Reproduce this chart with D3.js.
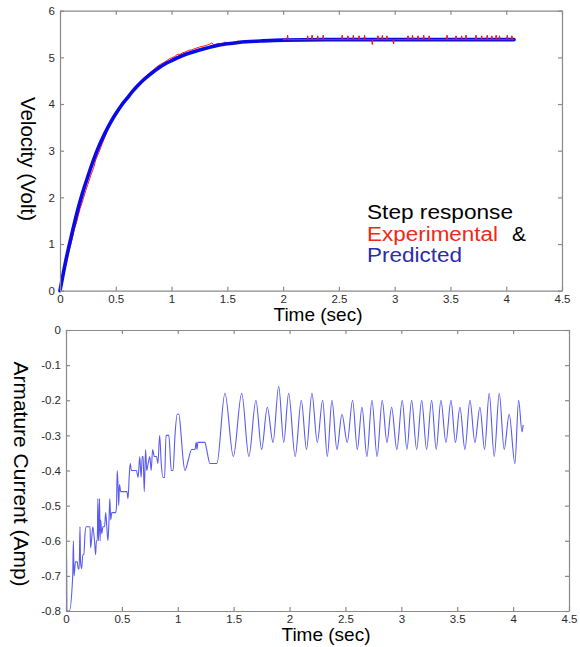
<!DOCTYPE html>
<html>
<head>
<meta charset="utf-8">
<script src="https://cdn.jsdelivr.net/npm/d3@7"></script>
<style>
body { margin: 0; background: #fff; }
text { font-family: "Liberation Sans", Arial, sans-serif; }
</style>
</head>
<body>
<div id="main"></div>
<script>
// ---- top panel: step response (velocity) ----
const predTime = [0, 0.05, 0.1, 0.15, 0.2, 0.25, 0.3, 0.35, 0.4, 0.45, 0.5, 0.55, 0.6, 0.65, 0.7, 0.75, 0.8, 0.9, 1.0,
    1.1, 1.2, 1.3, 1.4, 1.5, 1.6, 1.8, 2.0, 2.5, 3.0, 3.5, 4.07];
const predVolt = [0, 0.62, 1.15, 1.65, 2.08, 2.45, 2.8, 3.1, 3.36, 3.59, 3.79, 3.97, 4.12, 4.27, 4.4, 4.52, 4.62, 4.8, 4.93,
    5.04, 5.12, 5.19, 5.25, 5.29, 5.32, 5.35, 5.37, 5.38, 5.38, 5.38, 5.38];

// experimental trace, [time, volt]
const expPts = [
    [0, 0], [0.02, 0.18], [0.05, 0.52], [0.08, 0.84], [0.1, 1.02], [0.13, 1.33], [0.15, 1.48],
    [0.18, 1.76], [0.2, 1.9], [0.23, 2.14], [0.25, 2.28], [0.28, 2.5], [0.3, 2.62], [0.32, 2.8],
    [0.35, 2.97], [0.38, 3.16], [0.4, 3.28], [0.43, 3.46], [0.45, 3.56], [0.48, 3.72], [0.5, 3.8],
    [0.53, 3.92], [0.55, 3.99], [0.58, 4.09], [0.6, 4.14], [0.63, 4.23], [0.65, 4.29], [0.68, 4.37],
    [0.7, 4.42], [0.73, 4.5], [0.75, 4.55], [0.78, 4.62], [0.8, 4.66], [0.83, 4.72], [0.85, 4.76],
    [0.88, 4.82], [0.9, 4.85], [0.93, 4.89], [0.95, 4.92], [0.98, 4.97], [1.0, 4.99], [1.03, 5.02],
    [1.05, 5.06], [1.08, 5.07], [1.1, 5.1], [1.13, 5.12], [1.15, 5.15], [1.18, 5.16], [1.2, 5.18],
    [1.25, 5.22], [1.3, 5.25], [1.34, 5.28], [1.36, 5.31], [1.38, 5.27], [1.42, 5.3], [1.45, 5.28],
    [1.48, 5.33], [1.5, 5.3], [1.55, 5.32], [1.6, 5.35], [1.62, 5.33], [1.66, 5.36], [1.7, 5.35],
    [1.75, 5.36], [1.8, 5.35], [1.85, 5.37], [1.9, 5.37], [2.0, 5.38],
    [2.036, 5.38], [2.04, 5.47], [2.044, 5.38], [2.216, 5.38], [2.22, 5.46], [2.224, 5.38],
    [2.256, 5.38], [2.26, 5.47], [2.264, 5.38], [2.306, 5.38], [2.31, 5.46], [2.314, 5.38],
    [2.356, 5.38], [2.36, 5.47], [2.364, 5.38], [2.526, 5.38], [2.53, 5.47], [2.534, 5.38],
    [2.576, 5.38], [2.58, 5.46], [2.584, 5.38], [2.626, 5.38], [2.63, 5.47], [2.634, 5.38],
    [2.676, 5.38], [2.68, 5.46], [2.684, 5.38], [2.726, 5.38], [2.73, 5.47], [2.734, 5.38],
    [2.796, 5.38], [2.8, 5.28], [2.804, 5.38], [2.846, 5.38], [2.85, 5.46], [2.854, 5.38],
    [2.886, 5.38], [2.89, 5.47], [2.894, 5.38], [2.926, 5.38], [2.93, 5.46], [2.934, 5.38],
    [2.986, 5.38], [2.99, 5.29], [2.994, 5.38], [3.116, 5.38], [3.12, 5.46], [3.124, 5.38],
    [3.156, 5.38], [3.16, 5.47], [3.164, 5.38], [3.206, 5.38], [3.21, 5.46], [3.214, 5.38],
    [3.256, 5.38], [3.26, 5.47], [3.264, 5.38], [3.306, 5.38], [3.31, 5.46], [3.314, 5.38],
    [3.466, 5.38], [3.47, 5.47], [3.474, 5.38], [3.546, 5.38], [3.55, 5.46], [3.554, 5.38],
    [3.596, 5.38], [3.6, 5.46], [3.604, 5.38], [3.636, 5.38], [3.64, 5.47], [3.644, 5.38],
    [3.726, 5.38], [3.73, 5.47], [3.734, 5.38], [3.776, 5.38], [3.78, 5.46], [3.784, 5.38],
    [3.826, 5.38], [3.83, 5.47], [3.834, 5.38], [3.866, 5.38], [3.87, 5.46], [3.874, 5.38],
    [3.906, 5.38], [3.91, 5.47], [3.914, 5.38], [3.936, 5.38], [3.94, 5.46], [3.944, 5.38],
    [4.006, 5.38], [4.01, 5.47], [4.014, 5.38], [4.046, 5.38], [4.05, 5.46], [4.054, 5.38],
    [4.07, 5.38]
];

// legend lines: text, colour, width it takes in the picture
const legendText = ["Step response", "Experimental", "&", "Predicted"];
const legendColor = ["#000", "#ee2a12", "#000", "#2c2ca6"];
const legendWidth = [146, 131, 14, 95];

// ---- bottom panel: armature current ----
const curTime = [0, 0.005, 0.008, 0.03, 0.06, 0.066, 0.072, 0.085, 0.1, 0.11, 0.118, 0.125, 0.13, 0.14,
    0.15, 0.16, 0.17, 0.18, 0.215, 0.22, 0.228, 0.24, 0.255, 0.265, 0.272, 0.28, 0.285, 0.29, 0.295,
    0.3, 0.305, 0.31, 0.32, 0.33, 0.345, 0.355, 0.365, 0.375, 0.385, 0.392, 0.4, 0.41, 0.445, 0.452,
    0.458, 0.465, 0.472, 0.478, 0.49, 0.545, 0.555, 0.565, 0.575, 0.585, 0.63, 0.645, 0.66, 0.672,
    0.682, 0.69, 0.7, 0.712, 0.722, 0.735, 0.75, 0.762, 0.775, 0.79, 0.81, 0.822, 0.838, 0.852, 0.868,
    0.882, 0.895, 0.92, 0.942, 0.958, 0.975, 0.995, 1.01, 1.03, 1.045, 1.064, 1.094, 1.124, 1.154,
    1.165, 1.172, 1.18, 1.243, 1.258, 1.288, 1.35,
    1.422, 1.497, 1.572, 1.636, 1.699, 1.75, 1.801, 1.852, 1.903, 1.948, 1.992, 2.05, 2.105, 2.152,
    2.2, 2.248, 2.296, 2.338, 2.379, 2.424, 2.469, 2.516, 2.564, 2.606, 2.648, 2.692, 2.737, 2.783,
    2.829, 2.871, 2.913, 2.96, 3.008, 3.05, 3.092, 3.137, 3.182, 3.226, 3.271, 3.312, 3.354, 3.399,
    3.444, 3.484, 3.524, 3.569, 3.614, 3.658, 3.703, 3.745, 3.786, 3.831, 3.876, 3.92, 3.965, 4.016,
    4.049, 4.08, 4.09];
const curAmp = [-0.62, -0.62, -0.8, -0.8, -0.7, -0.6, -0.7, -0.66, -0.66, -0.68, -0.68, -0.56, -0.66, -0.68,
    -0.64, -0.64, -0.58, -0.56, -0.56, -0.62, -0.6, -0.56, -0.6, -0.64, -0.6, -0.6, -0.48, -0.6, -0.56,
    -0.48, -0.6, -0.54, -0.58, -0.56, -0.56, -0.52, -0.56, -0.6, -0.54, -0.48, -0.54, -0.52, -0.52, -0.5,
    -0.4, -0.44, -0.5, -0.44, -0.46, -0.46, -0.48, -0.42, -0.38, -0.4, -0.4, -0.42, -0.36, -0.42,
    -0.36, -0.36, -0.46, -0.34, -0.4, -0.38, -0.36, -0.4, -0.34, -0.36, -0.36, -0.38, -0.3, -0.38, -0.42,
    -0.42, -0.3, -0.3, -0.4, -0.4, -0.3, -0.24, -0.24, -0.3, -0.36, -0.4, -0.37, -0.34, -0.34,
    -0.32, -0.34, -0.32, -0.32, -0.34, -0.38, -0.38,
    -0.18, -0.36, -0.18, -0.36, -0.2, -0.34, -0.22, -0.32, -0.16, -0.32, -0.18, -0.36, -0.2, -0.34,
    -0.18, -0.32, -0.2, -0.36, -0.2, -0.34, -0.24, -0.32, -0.2, -0.34, -0.22, -0.36, -0.2, -0.36,
    -0.2, -0.32, -0.22, -0.34, -0.2, -0.34, -0.2, -0.34, -0.2, -0.34, -0.2, -0.34, -0.2, -0.32,
    -0.2, -0.32, -0.22, -0.34, -0.2, -0.32, -0.22, -0.34, -0.18, -0.36, -0.18, -0.34, -0.24, -0.38,
    -0.2, -0.29, -0.27];

const timeTicks = [0, 0.5, 1, 1.5, 2, 2.5, 3, 3.5, 4, 4.5];
const voltTicks = [0, 1, 2, 3, 4, 5, 6];
const ampTicks = [0, -0.1, -0.2, -0.3, -0.4, -0.5, -0.6, -0.7, -0.8];

const ctx = { w: 580, h: 647 };

// draws a boxed matlab-like axes with inward ticks
function drawFrame(g, x, y, xTicks, yTicks) {
    const [x0, x1] = x.range();
    const [y0, y1] = y.range();
    const fmt = d => String(d);
    g.append("g").attr("class", "ax")
        .attr("transform", `translate(0,${y0})`)
        .call(d3.axisBottom(x).tickValues(xTicks).tickFormat(fmt).tickSize(-4).tickSizeOuter(0).tickPadding(4));
    g.append("g").attr("class", "ax")
        .attr("transform", `translate(0,${y1})`)
        .call(d3.axisTop(x).tickValues(xTicks).tickFormat("").tickSize(-4).tickSizeOuter(0));
    g.append("g").attr("class", "ax")
        .attr("transform", `translate(${x0},0)`)
        .call(d3.axisLeft(y).tickValues(yTicks).tickFormat(fmt).tickSize(-4).tickSizeOuter(0).tickPadding(5));
    g.append("g").attr("class", "ax")
        .attr("transform", `translate(${x1},0)`)
        .call(d3.axisRight(y).tickValues(yTicks).tickFormat("").tickSize(-4).tickSizeOuter(0));
    g.selectAll(".ax path, .ax line").attr("stroke", "#8a8a8a").attr("stroke-width", 1.2);
    g.selectAll(".ax text").attr("fill", "#2a2a2a").style("font-size", "11.5px")
        .style("font-family", "'Liberation Sans', Arial, sans-serif");
}

function createViz() {
    const svg = d3.select("#main").append("svg")
        .attr("width", ctx.w).attr("height", ctx.h);

    // ---------- top panel ----------
    const top = svg.append("g");
    const xT = d3.scaleLinear().domain([0, 4.5]).range([60, 562]);
    const yT = d3.scaleLinear().domain([0, 6]).range([290.7, 10.7]);

    const lineT = d3.line().x(d => xT(d[0])).y(d => yT(d[1]));
    top.append("path")
        .datum(expPts)
        .attr("fill", "none").attr("stroke", "#ff1a1a").attr("stroke-width", 1)
        .attr("d", lineT);
    top.append("path")
        .datum(predTime.map((t, i) => [t, predVolt[i]]))
        .attr("fill", "none").attr("stroke", "#0a0ae6").attr("stroke-width", 3.6)
        .attr("stroke-linecap", "round")
        .attr("d", d3.line().x(d => xT(d[0])).y(d => yT(d[1])).curve(d3.curveMonotoneX));
    // noise spikes on the plateau show on both sides of the thick line
    top.append("path")
        .datum(expPts.filter(d => d[0] >= 2))
        .attr("fill", "none").attr("stroke", "#ff1a1a").attr("stroke-width", 1)
        .attr("d", lineT);

    drawFrame(top, xT, yT, timeTicks, voltTicks);

    top.append("text").attr("x", 318).attr("y", 321).attr("text-anchor", "middle")
        .style("font-size", "19px").text("Time (sec)");
    top.append("text").attr("transform", "translate(21,159) rotate(90)")
        .attr("text-anchor", "middle").style("font-size", "20.5px").text("Velocity (Volt)");

    // legend block, stretched a little like the original
    const legX = [367, 367, 512, 367];
    const legY = [219, 240.5, 240.5, 262];
    top.append("g").style("font-size", "20px")
        .selectAll("text").data(legendText).join("text")
        .attr("x", (d, i) => legX[i]).attr("y", (d, i) => legY[i])
        .attr("fill", (d, i) => legendColor[i])
        .attr("textLength", (d, i) => legendWidth[i])
        .attr("lengthAdjust", "spacingAndGlyphs")
        .text(d => d);

    // ---------- bottom panel ----------
    const bot = svg.append("g");
    const xB = d3.scaleLinear().domain([0, 4.5]).range([66, 569]);
    const yB = d3.scaleLinear().domain([-0.8, 0]).range([611, 330]);

    bot.append("path")
        .datum(curTime.map((t, i) => [t, curAmp[i]]))
        .attr("fill", "none").attr("stroke", "#5a5af0").attr("stroke-width", 1.1)
        .attr("d", d3.line().x(d => xB(d[0])).y(d => yB(d[1])).curve(d3.curveMonotoneX));

    drawFrame(bot, xB, yB, timeTicks, ampTicks);

    bot.append("text").attr("x", 326).attr("y", 641).attr("text-anchor", "middle")
        .style("font-size", "19px").text("Time (sec)");
    bot.append("text").attr("transform", "translate(14,474) rotate(90)")
        .attr("text-anchor", "middle").style("font-size", "21px").text("Armature Current (Amp)");
}

createViz();
</script>
</body>
</html>
